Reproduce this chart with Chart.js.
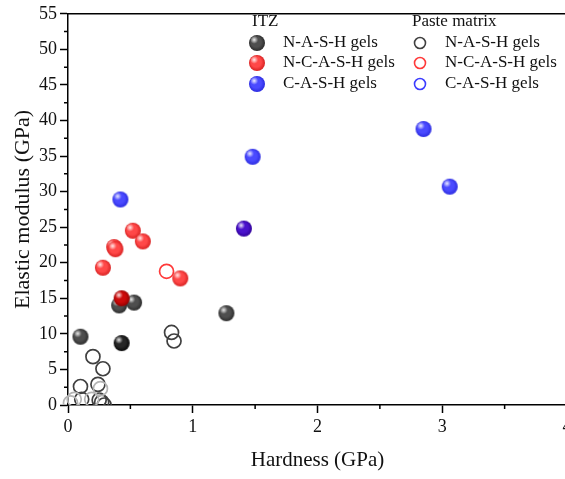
<!DOCTYPE html>
<html>
<head>
<meta charset="utf-8">
<script src="https://cdn.jsdelivr.net/npm/chart.js@4.4.1/dist/chart.umd.min.js"></script>
<style>
  html, body { margin: 0; padding: 0; background: #fff; overflow: hidden; }
  #wrap { width: 565px; height: 479px; overflow: hidden; }
</style>
</head>
<body>
<div id="wrap"><canvas id="modulusChart" width="580" height="479"></canvas></div>
<script>
// ITZ indentation results (hardness GPa / elastic modulus GPa)
const itzNashX = [0.10, 0.41, 0.53, 1.27, 0.43];
const itzNashY = [9.6, 14.0, 14.4, 12.9, 8.7];
const itzNcashX = [0.28, 0.37, 0.38, 0.52, 0.60, 0.90, 0.43];
const itzNcashY = [19.3, 22.2, 21.9, 24.5, 23.0, 17.8, 15.0];
const itzCashX = [0.42, 1.48, 2.85, 3.06, 1.41];
const itzCashY = [28.9, 34.9, 38.8, 30.7, 24.8];

// paste matrix results
const pasteNashX = [0.83, 0.85, 0.20, 0.28, 0.10, 0.24, 0.11, 0.25, 0.27, 0.29, 0.26, 0.05, 0.19, 0.02];
const pasteNashY = [10.2, 9.0, 6.8, 5.1, 2.6, 2.9, 0.8, 0.7, 0.4, 0.0, 2.3, 0.8, 0.8, 0.3];
const pasteNcashX = [0.79];
const pasteNcashY = [18.8];
const pasteCashX = [];
const pasteCashY = [];

const gelLabels = ['N-A-S-H gels', 'N-C-A-S-H gels', 'C-A-S-H gels'];
const groupLabels = ['ITZ', 'Paste matrix'];
const xTicks = [0, 1, 2, 3, 4];
const yTicks = [0, 5, 10, 15, 20, 25, 30, 35, 40, 45, 50, 55];

const serif = "'Liberation Serif', 'Times New Roman', serif";
const ink = '#111';

function pts(xs, ys) {
  return xs.map((x, i) => ({ x: x, y: ys[i] }));
}

// shaded ball used as point marker
function sphere(base, edge, r) {
  const size = Math.ceil(r * 2 + 2);
  const c = document.createElement('canvas');
  c.width = c.height = size;
  const g = c.getContext('2d');
  const m = size / 2;
  let grad = g.createRadialGradient(m - r * 0.3, m - r * 0.35, r * 0.1, m, m, r);
  grad.addColorStop(0, base);
  grad.addColorStop(0.6, base);
  grad.addColorStop(1, edge);
  g.fillStyle = grad;
  g.beginPath();
  g.arc(m, m, r, 0, Math.PI * 2);
  g.fill();
  grad = g.createRadialGradient(m - r * 0.35, m - r * 0.4, 0, m - r * 0.35, m - r * 0.4, r * 0.5);
  grad.addColorStop(0, 'rgba(255,255,255,0.9)');
  grad.addColorStop(1, 'rgba(255,255,255,0)');
  g.fillStyle = grad;
  g.beginPath();
  g.arc(m, m, r, 0, Math.PI * 2);
  g.fill();
  return c;
}

const ballGray = sphere('#4e4e4e', '#2c2c2c', 8);
const ballBlack = sphere('#262626', '#080808', 8);
const ballRed = sphere('#ff4848', '#d82222', 8);
const ballDarkRed = sphere('#cc0a0a', '#960000', 8);
const ballBlue = sphere('#4a4aff', '#2c2ce0', 8);
const ballPurple = sphere('#4a12cc', '#30009a', 8);

const ringGray = '#404040';
const ringRed = '#ff3a3a';
const ringBlue = '#3c3cff';
const ringFaint = '#b4b4b4';

const lastBlack = itzNashX.length - 1;
const lastRed = itzNcashX.length - 1;
const lastBlue = itzCashX.length - 1;
const faintFrom = 10;

// minor ticks, top frame line and two-column legend
const extras = {
  id: 'extras',
  afterDraw(chart) {
    const ctx = chart.ctx;
    const area = chart.chartArea;
    const xs = chart.scales.x, ys = chart.scales.y;
    ctx.save();
    ctx.strokeStyle = '#000';
    ctx.lineWidth = 1.5;
    ctx.beginPath();
    for (let v = 0.5; v < 4; v += 1) {
      const px = xs.getPixelForValue(v);
      ctx.moveTo(px, area.bottom);
      ctx.lineTo(px, area.bottom + 4);
    }
    for (let v = 2.5; v < 55; v += 5) {
      const py = ys.getPixelForValue(v);
      ctx.moveTo(area.left, py);
      ctx.lineTo(area.left - 4, py);
    }
    ctx.moveTo(area.left, area.top);
    ctx.lineTo(chart.width, area.top);
    ctx.stroke();

    // legend
    const rowY = [43, 63, 84];
    const cols = [
      { head: 252, mark: 257, text: 283 },
      { head: 412, mark: 420, text: 445 }
    ];
    ctx.font = '17px ' + serif;
    ctx.fillStyle = ink;
    ctx.textBaseline = 'middle';
    ctx.textAlign = 'left';
    groupLabels.forEach((g, i) => ctx.fillText(g, cols[i].head, 22));
    const balls = [ballGray, ballRed, ballBlue];
    const rings = [ringGray, ringRed, ringBlue];
    gelLabels.forEach((lab, i) => {
      const b = balls[i];
      ctx.drawImage(b, cols[0].mark - b.width / 2, rowY[i] - b.height / 2);
      ctx.fillStyle = ink;
      ctx.fillText(lab, cols[0].text, rowY[i]);
      ctx.strokeStyle = rings[i];
      ctx.lineWidth = 1.6;
      ctx.beginPath();
      ctx.arc(cols[1].mark, rowY[i], 5.5, 0, Math.PI * 2);
      ctx.stroke();
      ctx.fillText(lab, cols[1].text, rowY[i]);
    });
    ctx.restore();
  }
};

const hollow = { top: 12, left: 12, right: 12, bottom: 0 };

new Chart(document.getElementById('modulusChart'), {
  type: 'scatter',
  data: {
    datasets: [
      {
        label: 'Paste ' + gelLabels[0],
        data: pts(pasteNashX, pasteNashY),
        pointStyle: 'circle',
        pointRadius: 7,
        borderWidth: 1.7,
        backgroundColor: 'rgba(0,0,0,0)',
        borderColor: pasteNashX.map((_, i) => i >= faintFrom ? ringFaint : ringGray),
        clip: hollow,
        order: 6
      },
      {
        label: 'Paste ' + gelLabels[1],
        data: pts(pasteNcashX, pasteNcashY),
        pointStyle: 'circle',
        pointRadius: 7,
        borderWidth: 1.7,
        backgroundColor: 'rgba(0,0,0,0)',
        borderColor: ringRed,
        clip: hollow,
        order: 5
      },
      {
        label: 'Paste ' + gelLabels[2],
        data: pts(pasteCashX, pasteCashY),
        pointStyle: 'circle',
        pointRadius: 7,
        borderWidth: 1.7,
        backgroundColor: 'rgba(0,0,0,0)',
        borderColor: ringBlue,
        clip: hollow,
        order: 4
      },
      {
        label: 'ITZ ' + gelLabels[0],
        data: pts(itzNashX, itzNashY),
        pointStyle: itzNashX.map((_, i) => i === lastBlack ? ballBlack : ballGray),
        pointRadius: 8,
        order: 3
      },
      {
        label: 'ITZ ' + gelLabels[1],
        data: pts(itzNcashX, itzNcashY),
        pointStyle: itzNcashX.map((_, i) => i === lastRed ? ballDarkRed : ballRed),
        pointRadius: 8,
        order: 2
      },
      {
        label: 'ITZ ' + gelLabels[2],
        data: pts(itzCashX, itzCashY),
        pointStyle: itzCashX.map((_, i) => i === lastBlue ? ballPurple : ballBlue),
        pointRadius: 8,
        order: 1
      }
    ]
  },
  options: {
    responsive: false,
    animation: false,
    layout: { padding: { top: 7, right: 13, left: 0, bottom: 0 } },
    plugins: { legend: { display: false }, tooltip: { enabled: false } },
    scales: {
      x: {
        type: 'linear',
        min: 0,
        max: 4,
        afterFit: s => { s.height = 74; },
        afterBuildTicks: s => { s.ticks = xTicks.map(v => ({ value: v })); },
        grid: { drawOnChartArea: false, drawTicks: true, tickLength: 8, tickColor: '#000', tickWidth: 1.5 },
        border: { color: '#000', width: 1.5 },
        ticks: { color: ink, padding: 3, maxRotation: 0, font: { family: serif, size: 18 } },
        title: { display: true, text: 'Hardness (GPa)', color: ink, padding: { top: 0, bottom: 6 }, font: { family: serif, size: 21 } }
      },
      y: {
        type: 'linear',
        min: 0,
        max: 55,
        afterFit: s => { s.width = 68; },
        afterBuildTicks: s => { s.ticks = yTicks.map(v => ({ value: v })); },
        grid: { drawOnChartArea: false, drawTicks: true, tickLength: 8, tickColor: '#000', tickWidth: 1.5 },
        border: { color: '#000', width: 1.5 },
        ticks: { color: ink, padding: 3, font: { family: serif, size: 18 } },
        title: { display: true, text: 'Elastic modulus (GPa)', color: ink, padding: { top: 10, bottom: 0 }, font: { family: serif, size: 22 } }
      }
    }
  },
  plugins: [extras]
});
</script>
</body>
</html>
